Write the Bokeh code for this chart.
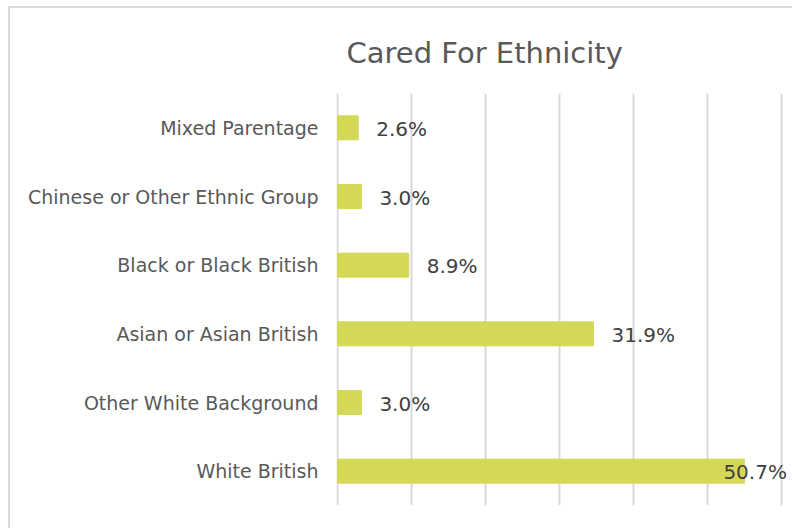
from bokeh.plotting import figure
from bokeh.models import FactorRange, Range1d, SingleIntervalTicker, ColumnDataSource, Title
from bokeh.core.properties import value
from bokeh.embed import file_html
from bokeh.resources import INLINE

# Data (bottom to top)
categories = ["White British", "Other White Background", "Asian or Asian British",
              "Black or Black British", "Chinese or Other Ethnic Group", "Mixed Parentage"]
percent = [50.7, 3.0, 31.9, 8.9, 3.0, 2.6]
labels = ["50.7%", "3.0%", "31.9%", "8.9%", "3.0%", "2.6%"]

BAR = "#d3d957"
GRID = "#d9d9d9"
FONT = "DejaVu Sans"

pmax = max(percent)
offsets = [-21 if v == pmax else 18 for v in percent]

src = ColumnDataSource(dict(cat=categories, v=percent, lab=labels, off=offsets))

p = figure(width=784, height=522, output_backend="svg", toolbar_location=None,
           y_range=FactorRange(factors=categories),
           x_range=Range1d(-0.1, 56.94),
           min_border_left=326, min_border_right=0, min_border_top=85, min_border_bottom=25)

p.styles = {"margin-left": "8px", "margin-top": "6px",
            "border-left": "2px solid #d9d9d9", "border-top": "2px solid #d9d9d9"}

p.title = Title(text="Cared For Ethnicity", align="left", offset=10,
                text_font_size="29px", text_color="#595959", text_font=FONT,
                text_font_style="normal", standoff=47)

p.hbar(y="cat", right="v", left=0, height=0.35, color=BAR, source=src)
p.text(x="v", y="cat", text="lab", x_offset="off", y_offset=1, source=src,
       text_baseline="middle", text_align="left", text_font=value(FONT),
       text_font_size="20px", text_color="#404040")

p.xaxis.ticker = SingleIntervalTicker(interval=9.23, num_minor_ticks=0)
p.xaxis.visible = False
p.xgrid.grid_line_color = GRID
p.xgrid.grid_line_width = 2
p.ygrid.grid_line_color = None

p.yaxis.axis_line_color = None
p.yaxis.major_tick_line_color = None
p.yaxis.minor_tick_line_color = None
p.yaxis.major_label_standoff = 12
p.yaxis.major_label_text_font = FONT
p.yaxis.major_label_text_font_size = "19px"
p.yaxis.major_label_text_color = "#595959"

p.outline_line_color = None
p.background_fill_color = "white"
p.border_fill_color = "white"

open("out.html", "w").write(file_html(p, INLINE))
